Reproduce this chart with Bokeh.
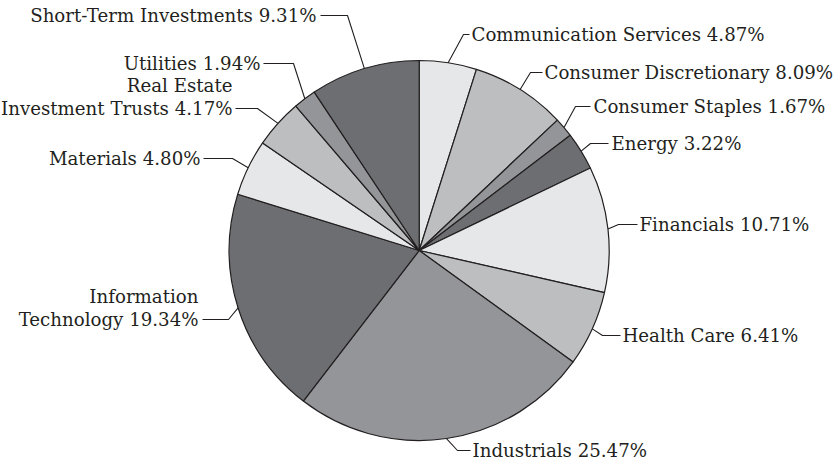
import numpy as np
from bokeh.plotting import figure
from bokeh.models import Range1d, ColumnDataSource
from bokeh.core.properties import value
from bokeh.embed import file_html
from bokeh.resources import INLINE

# ---- data ----
categories = ["Communication Services", "Consumer Discretionary", "Consumer Staples",
              "Energy", "Financials", "Health Care", "Industrials",
              "Information\nTechnology", "Materials", "Real Estate\nInvestment Trusts",
              "Utilities", "Short-Term Investments"]
weights = [4.87, 8.09, 1.67, 3.22, 10.71, 6.41, 25.47, 19.34, 4.80, 4.17, 1.94, 9.31]
palette = ["#e6e7e8", "#bcbec0", "#939598", "#6d6e71"]

# ---- layout (picture pixel coordinates) ----
W, H = 840, 465
CX, CY, R = 418.7, 250.0, 190.0
# side, leader y, elbow x, leader end x (near text), text anchor x
label_layout = [
    ("right", 34, 463, 469, 471),
    ("right", 72, 530, 542, 544),
    ("right", 106, 575, 590, 593),
    ("right", 143, 590, 608, 611),
    ("right", 224, 618, 637, 639),
    ("right", 335, 602, 620, 622),
    ("right", 450, 457, 470, 472),
    ("left", 319, 228, 202, 198),
    ("left", 158, 232, 203, 200),
    ("left", 108, 257, 235, 232),
    ("left", 63, 293, 263, 260),
    ("left", 15, 347, 320, 316),
]
FONT = "DejaVu Serif"
FSIZE = "18.2px"
INK = "#231f20"
LINE_GAP = 22.5
BASE_OFF = -0.2


def Y(py):
    return H - py


w = np.array(weights, dtype=float)
frac = w / w.sum()
cum_end = np.cumsum(frac) * 2 * np.pi
cum_start = cum_end - frac * 2 * np.pi
mid = (cum_start + cum_end) / 2

colors = [palette[i % 4] for i in range(len(weights))]
wedge_src = ColumnDataSource(dict(
    start=np.pi / 2 - cum_end,
    end=np.pi / 2 - cum_start,
    color=colors,
))

p = figure(width=W, height=H, output_backend="svg", toolbar_location=None,
           x_range=Range1d(0, W), y_range=Range1d(Y(H), Y(0)),
           x_axis_type=None, y_axis_type=None, min_border=0)
p.grid.visible = False
p.outline_line_color = None
p.background_fill_color = "white"
p.border_fill_color = "white"

p.wedge(x=CX, y=Y(CY), radius=R, start_angle="start", end_angle="end",
        fill_color="color", line_color=INK, line_width=1.2, source=wedge_src)

# leaders
xs, ys = [], []
tx, ty, tt, ta = [], [], [], []
for i, (side, ly, ex, endx, txt_x) in enumerate(label_layout):
    px = CX + R * np.sin(mid[i])
    py = CY - R * np.cos(mid[i])
    xs.append([px, ex, endx])
    ys.append([Y(py), Y(ly), Y(ly)])
    lines = categories[i].split("\n")
    lines[-1] = lines[-1] + f" {weights[i]:.2f}%"
    n = len(lines)
    for k, t in enumerate(lines):
        tx.append(txt_x)
        ty.append(Y(ly + BASE_OFF - (n - 1 - k) * LINE_GAP))
        tt.append(t)
        ta.append("left" if side == "right" else "right")

p.multi_line(xs=xs, ys=ys, line_color=INK, line_width=1.1)

txt_src = ColumnDataSource(dict(x=tx, y=ty, text=tt, align=ta))
p.text(x="x", y="y", text="text", text_align="align", text_baseline="alphabetic",
       text_font=value(FONT), text_font_size=value(FSIZE), text_color=INK, source=txt_src)

open("out.html", "w").write(file_html(p, INLINE))
